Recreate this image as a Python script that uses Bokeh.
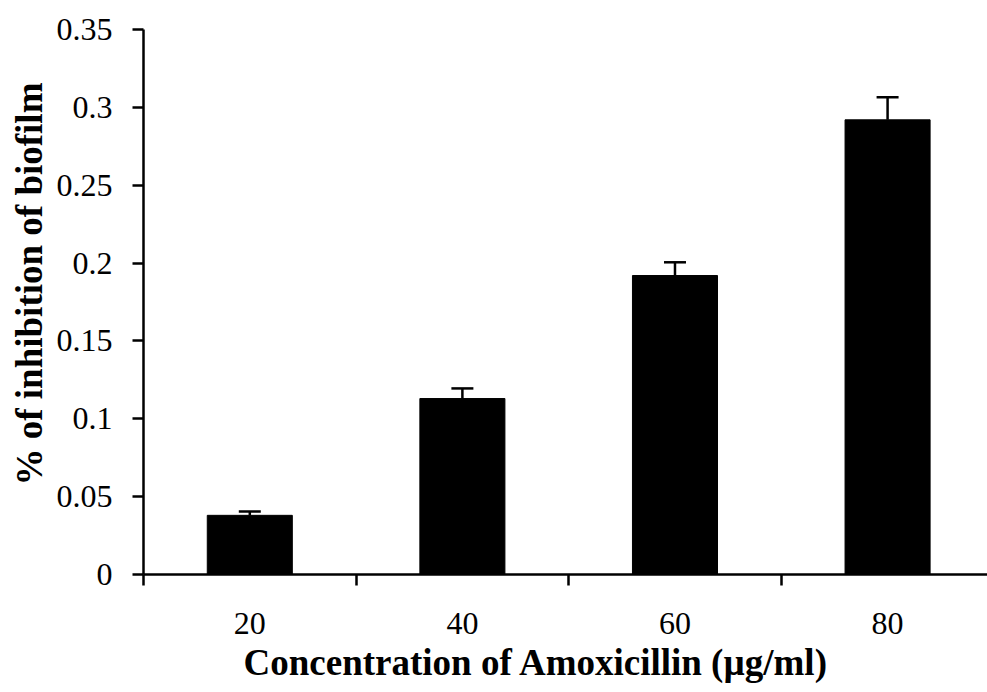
from bokeh.plotting import figure
from bokeh.models import FixedTicker, Range1d, ColumnDataSource, Whisker, TeeHead, Title
from bokeh.embed import file_html
from bokeh.resources import INLINE

categories = ["20", "40", "60", "80"]
values = [0.038, 0.113, 0.192, 0.292]
errors = [0.0025, 0.0065, 0.0085, 0.0145]
y_ticks = [0, 0.05, 0.1, 0.15, 0.2, 0.25, 0.3, 0.35]
y_tick_labels = ["0", "0.05", "0.1", "0.15", "0.2", "0.25", "0.3", "0.35"]
x_title = "Concentration of Amoxicillin (µg/ml)"
y_title = "% of inhibition of biofilm"

FONT = "Liberation Serif"

x_pos = [i + 0.5 for i in range(len(categories))]
src = ColumnDataSource(dict(x=x_pos, top=values,
                            upper=[v + e for v, e in zip(values, errors)]))

p = figure(width=987, height=692, output_backend="svg", toolbar_location=None,
           x_range=Range1d(0, 3.97), y_range=Range1d(0, 0.35),
           min_border_left=143, min_border_right=0, min_border_top=29,
           min_border_bottom=118)
p.outline_line_color = None
p.grid.grid_line_color = None
p.background_fill_color = "white"
p.border_fill_color = "white"

p.vbar(x="x", top="top", width=0.4, bottom=0, source=src,
       fill_color="black", line_color="black")
p.segment(x0="x", y0="top", x1="x", y1="upper", source=src,
          line_color="black", line_width=2.5)
p.add_layout(Whisker(source=src, base="x", upper="upper", lower="upper",
                     line_color="black", line_width=0,
                     upper_head=TeeHead(size=22, line_width=2.5, line_color="black"),
                     lower_head=None))

# x axis
xa = p.xaxis[0]
xa.ticker = FixedTicker(ticks=x_pos, minor_ticks=[0, 1, 2, 3, 4])
xa.major_label_overrides = {x: c for x, c in zip(x_pos, categories)}
xa.major_tick_line_color = None
xa.minor_tick_line_color = "black"
xa.minor_tick_line_width = 2.5
xa.minor_tick_in = 0
xa.minor_tick_out = 11
xa.axis_line_width = 2.5
xa.major_label_text_font = FONT
xa.major_label_text_font_size = "32px"
xa.major_label_text_color = "black"
xa.major_label_standoff = 27

# y axis
ya = p.yaxis[0]
ya.ticker = FixedTicker(ticks=y_ticks)
ya.major_label_overrides = {t: l for t, l in zip(y_ticks, y_tick_labels)}
ya.major_tick_line_width = 2.5
ya.major_tick_in = 0
ya.major_tick_out = 11
ya.minor_tick_line_color = None
ya.axis_line_width = 2.5
ya.major_label_text_font = FONT
ya.major_label_text_font_size = "32px"
ya.major_label_text_color = "black"
ya.major_label_standoff = 20

p.add_layout(Title(text=x_title, align="left", offset=100, standoff=6,
                   text_font=FONT, text_font_size="37px", text_font_style="bold",
                   text_color="black"), "below")
p.add_layout(Title(text=y_title, align="left", offset=89, standoff=7,
                   text_font=FONT, text_font_size="37px", text_font_style="bold",
                   text_color="black"), "left")

open("out.html", "w").write(file_html(p, INLINE))
